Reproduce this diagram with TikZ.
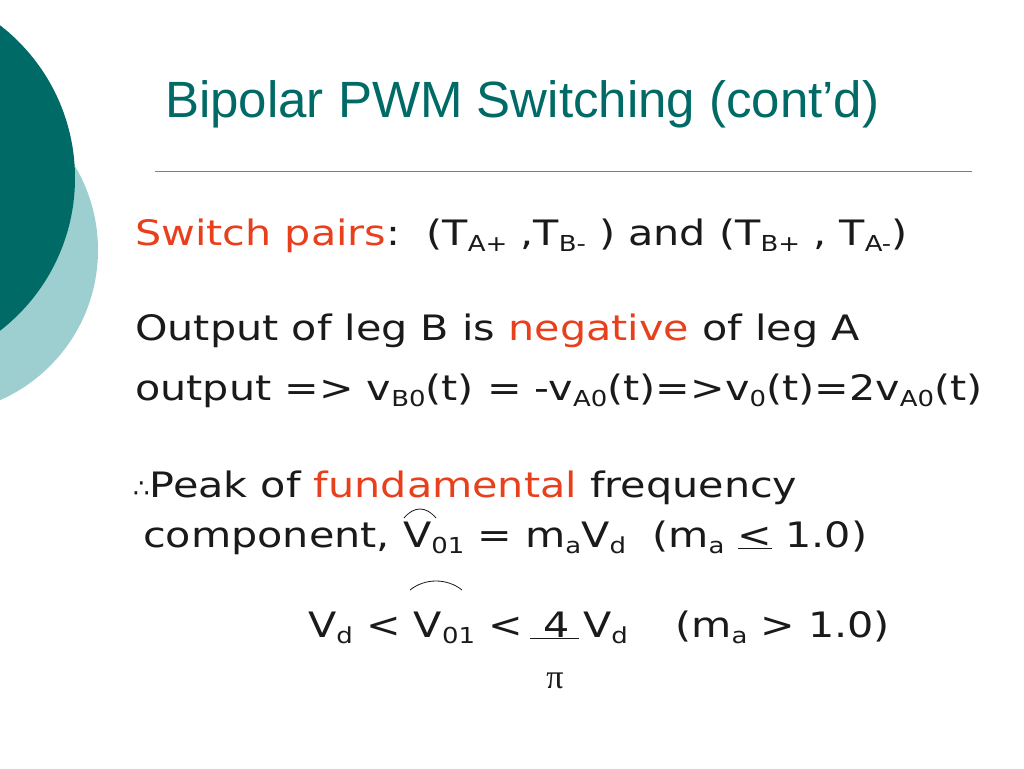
\documentclass[tikz,border=0pt]{standalone}
\usepackage{fontspec}
\setmainfont{DejaVu Sans}[FakeStretch=1.18]
\newfontfamily\titlefont{Liberation Sans}
\newfontfamily\symfont{Liberation Serif}
\newfontfamily\djv{DejaVu Sans}
\definecolor{teal1}{HTML}{006A66}
\definecolor{teal2}{HTML}{9ECFD0}
\definecolor{redt}{HTML}{E8401C}
\definecolor{txt}{HTML}{1A1A1A}
\newcommand\lo[1]{\raisebox{-0.35ex}{\fontsize{22}{22}\selectfont #1}}
\tikzset{body/.style={anchor=base west,inner sep=0pt,text=txt,font=\fontsize{35}{40}\selectfont},
 hat/.style={draw=txt,line width=0.8pt}}
\begin{document}
\begin{tikzpicture}[x=1pt,y=-1pt]
\useasboundingbox (0,0) rectangle (1024,768);
\fill[white] (0,0) rectangle (1024,768);
\begin{scope}
\clip (0,0) rectangle (1024,768);
\fill[teal2] (-66,250) circle (164);
\fill[teal1] (-118,178) circle (193);
\end{scope}
\node[anchor=base west,inner sep=0pt,text=teal1,font=\titlefont\fontsize{51}{56}\selectfont] (title) at (165,117) {Bipolar PWM Switching (cont’d)};
\draw[gray,line width=0.8pt] (155,171) -- (972,171);
\node[body] (l1) at (135,245) {\textcolor{redt}{Switch pairs}:\ \ (T\lo{A+} ,T\lo{B-}\ ) and (T\lo{B+}\ , T\lo{A-})};
\node[body] (l2) at (135,340) {Output of leg B is \textcolor{redt}{negative} of leg A};
\node[body] (l3) at (135,400) {output => v\lo{B0}(t) = -v\lo{A0}(t)=>v\lo{0}(t)=2v\lo{A0}(t)};
\node[body] (l4) at (133,497) {{\djv\fontsize{26}{30}\selectfont ∴}Peak of \textcolor{redt}{fundamental} frequency};
\node[body] (l5) at (143,547) {component, V\lo{01} = m\lo{a}V\lo{d}\ \ (m\lo{a} \underline{<} 1.0)};
\node[body] (l6a) at (308,637) {V\lo{d} < V\lo{01} <};
\node[body] (l6b) at (543,637) {4};
\node[body] (l6c) at (583,637) {V\lo{d}};
\node[body] (l6d) at (675,637) {(m\lo{a} > 1.0)};
\node[anchor=base,inner sep=0pt,text=txt,font=\symfont\fontsize{34}{40}\selectfont] (pi) at (555,688) {π};
\draw[hat] (404,518) .. controls (414,506) and (426,506) .. (436,518);
\draw[hat] (410,590) .. controls (425,578) and (447,578) .. (462,590);
\draw[txt,line width=0.8pt] (530,638) -- (579,638);
\end{tikzpicture}
\end{document}
